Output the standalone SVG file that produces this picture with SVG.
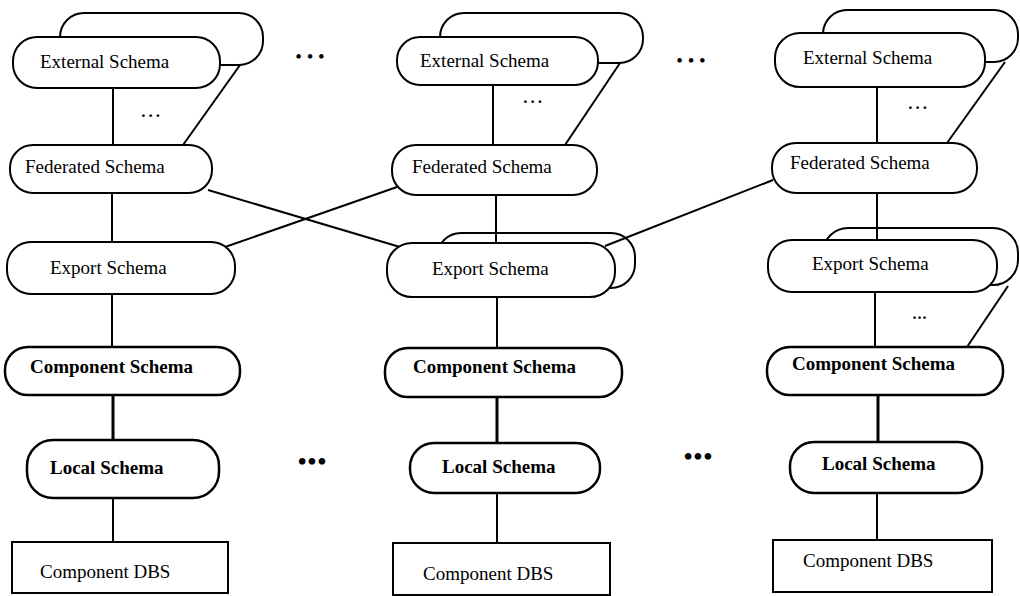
<svg xmlns="http://www.w3.org/2000/svg" width="1020" height="596" viewBox="0 0 1020 596">
<style>
.n{fill:#fff;stroke:#000;stroke-width:2}
.b{fill:none;stroke:#000;stroke-width:2}
.nb{fill:#fff;stroke:#000;stroke-width:2.5}
.c{stroke:#000;stroke-width:2;fill:none}
.ct{stroke:#000;stroke-width:3;fill:none}
.t{font-family:"Liberation Serif","Times New Roman",serif;font-size:19px;fill:#000}
.tb{font-family:"Liberation Serif","Times New Roman",serif;font-size:19px;font-weight:bold;fill:#000}
.d{font-family:"Liberation Serif","Times New Roman",serif;fill:#000;text-anchor:middle}
</style>
<rect width="1020" height="596" fill="#fff"/>
<g id="connectors">
<line class="c" x1="113" y1="88" x2="113" y2="145"/>
<line class="c" x1="240" y1="65" x2="183" y2="145"/>
<line class="c" x1="112" y1="193" x2="112" y2="242"/>
<line class="c" x1="112" y1="294" x2="112" y2="347"/>
<line class="ct" x1="113" y1="395" x2="113" y2="440"/>
<line class="c" x1="113" y1="498" x2="113" y2="542"/>
<line class="c" x1="208" y1="190" x2="400" y2="247"/>
<line class="c" x1="225" y1="247" x2="397" y2="187"/>
<line class="c" x1="493" y1="85" x2="493" y2="145"/>
<line class="c" x1="620" y1="63" x2="565" y2="145"/>
<line class="c" x1="496" y1="195" x2="496" y2="243"/>
<line class="c" x1="497" y1="297" x2="497" y2="348"/>
<line class="ct" x1="497" y1="397" x2="497" y2="443"/>
<line class="c" x1="497" y1="493" x2="497" y2="543"/>
<line class="c" x1="605" y1="246" x2="773" y2="180"/>
<line class="c" x1="877" y1="87" x2="877" y2="143"/>
<line class="c" x1="1005" y1="62" x2="947" y2="143"/>
<line class="c" x1="877" y1="193" x2="877" y2="240"/>
<line class="c" x1="875" y1="292" x2="875" y2="347"/>
<line class="c" x1="1008" y1="286" x2="967" y2="347"/>
<line class="ct" x1="878" y1="395" x2="878" y2="442"/>
<line class="c" x1="877" y1="493" x2="877" y2="540"/>
</g>
<g id="left-external">
<rect class="b" x="60" y="13" width="203" height="52" rx="24"/>
<rect class="n" x="13" y="37" width="207" height="51" rx="24"/>
<text class="t" x="40" y="68">External Schema</text>
</g>
<g id="left-federated">
<rect class="n" x="10" y="145" width="202" height="48" rx="23"/>
<text class="t" x="25" y="173">Federated Schema</text>
</g>
<g id="left-export">
<rect class="n" x="7" y="242" width="228" height="52" rx="24"/>
<text class="t" x="50" y="274">Export Schema</text>
</g>
<g id="left-component">
<rect class="nb" x="5" y="347" width="235" height="48" rx="23"/>
<text class="tb" x="30" y="373">Component Schema</text>
</g>
<g id="left-local">
<rect class="nb" x="27" y="440" width="192" height="58" rx="26"/>
<text class="tb" x="50" y="474">Local Schema</text>
</g>
<g id="left-dbs">
<rect class="n" x="12" y="542" width="216" height="51"/>
<text class="t" x="40" y="578">Component DBS</text>
</g>
<g id="mid-external">
<rect class="b" x="440" y="13" width="203" height="50" rx="24"/>
<rect class="n" x="397" y="37" width="201" height="48" rx="23"/>
<text class="t" x="420" y="67">External Schema</text>
</g>
<g id="mid-federated">
<rect class="n" x="392" y="145" width="205" height="50" rx="24"/>
<text class="t" x="412" y="173">Federated Schema</text>
</g>
<g id="mid-export">
<rect class="b" x="437" y="233" width="198" height="55" rx="24"/>
<rect class="n" x="387" y="243" width="228" height="54" rx="25"/>
<text class="t" x="432" y="275">Export Schema</text>
</g>
<g id="mid-component">
<rect class="nb" x="385" y="348" width="237" height="49" rx="23"/>
<text class="tb" x="413" y="373">Component Schema</text>
</g>
<g id="mid-local">
<rect class="nb" x="410" y="443" width="190" height="50" rx="24"/>
<text class="tb" x="442" y="473">Local Schema</text>
</g>
<g id="mid-dbs">
<rect class="n" x="393" y="543" width="217" height="52"/>
<text class="t" x="423" y="580">Component DBS</text>
</g>
<g id="right-external">
<rect class="b" x="823" y="10" width="195" height="52" rx="24"/>
<rect class="n" x="775" y="33" width="210" height="54" rx="25"/>
<text class="t" x="803" y="64">External Schema</text>
</g>
<g id="right-federated">
<rect class="n" x="772" y="143" width="205" height="50" rx="24"/>
<text class="t" x="790" y="169">Federated Schema</text>
</g>
<g id="right-export">
<rect class="b" x="823" y="228" width="195" height="57" rx="25"/>
<rect class="n" x="768" y="240" width="229" height="52" rx="24"/>
<text class="t" x="812" y="270">Export Schema</text>
</g>
<g id="right-component">
<rect class="nb" x="767" y="347" width="236" height="48" rx="23"/>
<text class="tb" x="792" y="370">Component Schema</text>
</g>
<g id="right-local">
<rect class="nb" x="790" y="442" width="192" height="51" rx="24"/>
<text class="tb" x="822" y="470">Local Schema</text>
</g>
<g id="right-dbs">
<rect class="n" x="773" y="540" width="219" height="52"/>
<text class="t" x="803" y="567">Component DBS</text>
</g>
<g id="ellipses">
<text class="d" x="310" y="63" font-size="19">• • •</text>
<text class="d" x="691" y="67" font-size="19">• • •</text>
<text class="d" x="312" y="471" font-size="28">•••</text>
<text class="d" x="698" y="466" font-size="28">•••</text>
<text class="d" x="152" y="117" font-size="17" font-weight="bold" letter-spacing="3">...</text>
<text class="d" x="534" y="103" font-size="17" font-weight="bold" letter-spacing="3">...</text>
<text class="d" x="919" y="109" font-size="17" font-weight="bold" letter-spacing="3">...</text>
<text class="d" x="920" y="319" font-size="16" font-weight="bold" letter-spacing="1">...</text>
</g>
</svg>
